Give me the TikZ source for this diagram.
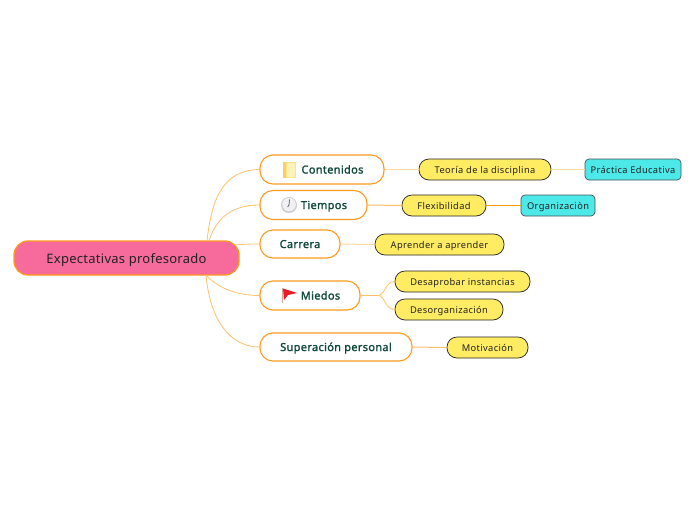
\documentclass[tikz,border=0pt]{standalone}
\usepackage{fontspec}
\setmainfont{Noto Sans}
\newfontfamily\rootface[LetterSpace=2]{Noto Sans}
\newfontfamily\subface[LetterSpace=4]{Noto Sans}
\newfontfamily\mainface[FakeBold=1.6,LetterSpace=3]{Noto Sans}
\definecolor{org}{HTML}{FF9A1F}
\definecolor{strong}{HTML}{FF9A00}
\definecolor{lorg}{HTML}{FFC06A}
\definecolor{pale}{HTML}{FFD9A0}
\definecolor{pink}{HTML}{F66B9C}
\definecolor{ylw}{HTML}{FFEC62}
\definecolor{cyn}{HTML}{4DE8E8}
\definecolor{grn}{HTML}{0F4A3A}
\definecolor{ink}{HTML}{222222}
\definecolor{cynedge}{HTML}{4A4F55}
\definecolor{bookA}{HTML}{FFE28A}
\definecolor{bookB}{HTML}{FFCF5C}
\definecolor{bookC}{HTML}{FFF2B8}
\definecolor{clockA}{HTML}{C9CCD0}
\definecolor{clockB}{HTML}{F0F0F2}
\definecolor{clockH}{HTML}{555A60}
\definecolor{poleC}{HTML}{C8A898}
\definecolor{flagC}{HTML}{F01822}
\tikzset{
 x=1pt,y=-1pt,
 rootbox/.style={draw=org,line width=1.3pt,fill=pink,rounded corners=14pt,minimum width=225pt,minimum height=34pt,inner sep=0pt,text=ink,text height=10pt,text depth=0pt,font=\rootface\fontsize{13}{15}\selectfont},
 mainbox/.style={draw=org,line width=1.1pt,fill=white,rounded corners=13pt,minimum height=29pt,inner sep=0pt,text=grn,text height=8pt,text depth=0pt,font=\mainface\fontsize{11}{13}\selectfont},
 subbox/.style={draw=ink,line width=.7pt,fill=ylw,rounded corners=10pt,minimum height=21pt,inner sep=0pt,text=ink,text height=7pt,text depth=0pt,font=\subface\fontsize{9.3}{11}\selectfont},
 cynbox/.style={draw=cynedge,line width=.7pt,fill=cyn,rounded corners=4pt,minimum height=21pt,inner sep=0pt,text=ink,text height=7pt,text depth=0pt,font=\subface\fontsize{9.3}{11}\selectfont},
 curve/.style={draw=lorg,line width=.8pt},
 link/.style={draw=lorg,line width=1pt},
 palelink/.style={draw=pale,line width=1pt},
 orglink/.style={draw=strong,line width=1.4pt},
}
\begin{document}
\begin{tikzpicture}
\useasboundingbox (0,0) rectangle (696,520);
\node[rootbox] (root) at (126.5,258) {Expectativas profesorado};
\coordinate (ra) at (207,241); \coordinate (rb) at (209,241); \coordinate (rc) at (235,245);
\coordinate (rd) at (206,275);
\node[mainbox,minimum width=124pt] (cont) at (322,169.5) {\hspace*{21pt}Contenidos};
\node[mainbox,minimum width=107pt] (tiem) at (313.5,205) {\hspace*{21pt}Tiempos};
\node[mainbox,minimum width=80pt,minimum height=28pt] (carr) at (300,244) {Carrera};
\node[mainbox,minimum width=100pt] (mied) at (310,295.5) {\hspace*{21pt}Miedos};
\node[mainbox,minimum width=152pt,minimum height=28pt] (supe) at (336,347) {Superación personal};
\node[subbox,minimum width=132pt] (teor) at (485,169.5) {Teoría de la disciplina};
\node[subbox,minimum width=84pt] (flex) at (444,205.5) {Flexibilidad};
\node[subbox,minimum width=129pt] (apre) at (439.5,244.5) {Aprender a aprender};
\node[subbox,minimum width=135pt] (desa) at (462.5,281.5) {Desaprobar instancias};
\node[subbox,minimum width=108pt] (deso) at (449,309.5) {Desorganización};
\node[subbox,minimum width=81pt] (moti) at (487.5,347.5) {Motivación};
\node[cynbox,minimum width=96pt] (prac) at (633,169.5) {Práctica Educativa};
\node[cynbox,minimum width=74pt] (orga) at (558,205.5) {Organizaciòn};
% connectors
\draw[curve] (ra) .. controls (212,195) and (225,170) .. (cont.west);
\draw[curve] (rb) .. controls (216,218) and (232,205) .. (tiem.west);
\draw[curve] (rc) .. controls (245,244) and (252,244) .. (carr.west);
\draw[curve] (rd) .. controls (220,290) and (240,295.5) .. (mied.west);
\draw[curve] (rd) .. controls (210,320) and (230,347) .. (supe.west);
\draw[palelink] (cont.east) -- (teor.west);
\draw[link] (tiem.east) -- (flex.west);
\draw[palelink] (carr.east) -- (apre.west);
\draw[palelink] (teor.east) -- (prac.west);
\draw[orglink] (flex.east) -- (orga.west);
\draw[link] (supe.east) -- (moti.west);
\coordinate (mj) at (378,295.5);
\draw[link] (mied.east) -- (mj);
\draw[curve] (mj) .. controls (385,295.5) and (385,281.5) .. (desa.west);
\draw[curve] (mj) .. controls (385,295.5) and (385,309.5) .. (deso.west);
% icons
\fill[bookA] (283,161.5) rectangle (296,177.5);
\fill[bookB] (283,161.5) rectangle (285.5,177.5);
\fill[bookC] (286.5,162.5) rectangle (295,176.5);
\fill[clockA] (289,205) circle (8);
\fill[clockB] (289,204.5) circle (6.8);
\draw[clockH,line width=.7pt] (289,205) -- (289.5,199.5);
\draw[clockH,line width=.7pt] (289,205) -- (287.6,207);
\fill[poleC] (281.5,288) rectangle (283,303);
\fill[flagC] (283,288.5) -- (297,293) -- (288,295) -- (284,300) -- cycle;
\end{tikzpicture}
\end{document}
